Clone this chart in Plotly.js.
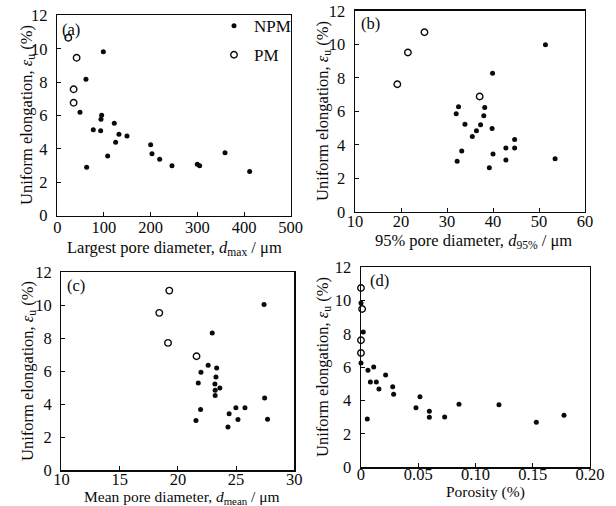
<!DOCTYPE html>
<html><head><meta charset="utf-8">
<script src="https://cdn.plot.ly/plotly-3.0.1.min.js"></script>
<style>html,body{margin:0;padding:0;background:#fff;}#chart{width:616px;height:506px;}</style>
</head><body><div id="chart"></div>
<script>
// Panel (a): largest pore diameter (um) vs uniform elongation (%)
const a_pm_x = [23.6, 41.4, 35, 35];
const a_pm_y = [10.66, 9.46, 7.57, 6.76];
const a_npm_x = [98.6, 61.4, 48.6, 95, 93.6, 77.1, 92.9, 122.1, 132.1, 149.3, 125, 107.9, 62.9, 200, 202.9, 219.3, 245.7, 300, 305, 359.3, 412.1];
const a_npm_y = [9.82, 8.18, 6.19, 6.02, 5.78, 5.14, 5.08, 5.54, 4.87, 4.77, 4.39, 3.57, 2.9, 4.25, 3.71, 3.37, 2.98, 3.07, 2.99, 3.77, 2.64];
// Panel (b): 95% pore diameter (um)
const b_pm_x = [19.2, 21.5, 25.1, 37.1];
const b_pm_y = [7.61, 9.51, 10.72, 6.88];
const b_npm_x = [51.4, 39.9, 32.5, 32.0, 38.2, 38.0, 33.9, 37.3, 39.8, 36.4, 35.5, 44.7, 33.2, 42.8, 44.7, 40.0, 32.2, 42.8, 39.2, 53.5];
const b_npm_y = [9.97, 8.27, 6.27, 5.85, 6.22, 5.74, 5.23, 5.19, 4.97, 4.84, 4.5, 4.32, 3.63, 3.81, 3.81, 3.45, 3.02, 3.09, 2.63, 3.16];
// Panel (c): mean pore diameter (um)
const c_pm_x = [19.26, 18.4, 19.15, 21.6];
const c_pm_y = [10.89, 9.54, 7.72, 6.91];
const c_npm_x = [27.4, 22.95, 22.6, 21.98, 23.33, 23.27, 21.75, 23.18, 23.6, 23.2, 23.2, 21.95, 21.55, 24.4, 24.98, 25.76, 25.16, 24.3, 27.45, 27.7];
const c_npm_y = [10.04, 8.32, 6.36, 5.94, 6.2, 5.66, 5.29, 5.23, 4.99, 4.85, 4.53, 3.68, 3.01, 3.42, 3.79, 3.79, 3.08, 2.63, 4.38, 3.1];
// Panel (d): porosity (%)
const d_pm_x = [0, 0.001, 0, 0];
const d_pm_y = [10.76, 9.5, 7.62, 6.86];
const d_npm_x = [0, 0.002, 0, 0.0061, 0.0111, 0.0082, 0.0134, 0.0157, 0.0215, 0.0277, 0.0285, 0.0055, 0.048, 0.0515, 0.0597, 0.0597, 0.0731, 0.0856, 0.1205, 0.1531, 0.1773];
const d_npm_y = [9.86, 8.12, 6.26, 5.82, 6.02, 5.12, 5.12, 4.7, 5.54, 4.84, 4.38, 2.9, 3.58, 4.24, 3.36, 3.0, 3.02, 3.78, 3.76, 2.7, 3.12];

const yTicks = [0, 2, 4, 6, 8, 10, 12];
const dTickVals = [0, 0.05, 0.10, 0.15, 0.20];
const dTickText = ["0", "0.05", "0.10", "0.15", "0.20"];

const ink = '#0a0a0a';
const FONT = 'Liberation Serif, Times New Roman, serif';
const FS = 16.5;
const filled = {symbol: 'circle', size: 5, color: ink};
const open = {symbol: 'circle-open', size: 6.5, color: ink, line: {width: 1.4, color: ink}};

function pair(xn, yn, xp, yp, ax, show) {
  return [
    {type: 'scatter', mode: 'markers', x: xn, y: yn, xaxis: 'x' + ax, yaxis: 'y' + ax, marker: filled, name: 'NPM', legendgroup: 'npm', showlegend: show, cliponaxis: false},
    {type: 'scatter', mode: 'markers', x: xp, y: yp, xaxis: 'x' + ax, yaxis: 'y' + ax, marker: open, name: 'PM', legendgroup: 'pm', showlegend: show, cliponaxis: false}
  ];
}
const data = [].concat(
  pair(a_npm_x, a_npm_y, a_pm_x, a_pm_y, '', true),
  pair(b_npm_x, b_npm_y, b_pm_x, b_pm_y, '2', false),
  pair(c_npm_x, c_npm_y, c_pm_x, c_pm_y, '3', false),
  pair(d_npm_x, d_npm_y, d_pm_x, d_pm_y, '4', false)
);

function xax(domain, range, anchor, standoff, extra) {
  return Object.assign({domain: domain, range: range, anchor: anchor, showline: true, mirror: true, linecolor: ink, linewidth: 1.4,
    ticks: 'inside', ticklen: 4, tickcolor: ink, showgrid: false, zeroline: false, ticklabelstandoff: standoff,
    tickfont: {family: FONT, size: FS, color: ink}}, extra);
}
function yax(domain, anchor) {
  return {domain: domain, range: [0, 12], anchor: anchor, tickvals: yTicks, showline: true, mirror: true, linecolor: ink, linewidth: 1.4,
    ticks: 'inside', ticklen: 4, tickcolor: ink, showgrid: false, zeroline: false, ticklabelstandoff: 5,
    tickfont: {family: FONT, size: FS, color: ink}};
}

const xa = [0.0930, 0.4719], ya = [0.5741, 0.9694];
const xb = [0.5763, 0.9497], yb = [0.5814, 0.9787];
const xc = [0.0998, 0.4778], yc = [0.0706, 0.4619];
const xd = [0.5860, 0.9578], yd = [0.0765, 0.4717];

function ann(text, x, y, angle, size) {
  return {text: text, xref: 'paper', yref: 'paper', x: x / 616, y: 1 - y / 506, xanchor: 'center', yanchor: 'middle',
    showarrow: false, textangle: angle || 0, font: {family: FONT, size: size || FS, color: ink}};
}
const ytitle = 'Uniform elongation, <i>ε</i><sub>u</sub> (%)';

const layout = {
  width: 616, height: 506, margin: {l: 0, r: 0, t: 0, b: 0}, paper_bgcolor: '#fff', plot_bgcolor: '#fff',
  font: {family: FONT, size: FS, color: ink},
  showlegend: true,
  legend: {x: 214 / 616, y: 0.984, xanchor: 'left', yanchor: 'top', bgcolor: 'rgba(0,0,0,0)', font: {family: FONT, size: 17, color: ink},
    itemwidth: 30, traceorder: 'grouped', tracegroupgap: 4},
  xaxis: xax(xa, [0, 500], 'y', -4, {dtick: 100}),
  yaxis: yax(ya, 'x'),
  xaxis2: xax(xb, [10, 60], 'y2', -6, {dtick: 10}),
  yaxis2: yax(yb, 'x2'),
  xaxis3: xax(xc, [10, 30], 'y3', -6, {dtick: 5}),
  yaxis3: yax(yc, 'x3'),
  xaxis4: xax(xd, [0, 0.2], 'y4', -8, {tickvals: dTickVals, ticktext: dTickText}),
  yaxis4: yax(yd, 'x4'),
  annotations: [
    ann('(a)', 71, 29), ann('(b)', 370, 24), ann('(c)', 76, 285), ann('(d)', 379, 280),
    ann('Largest pore diameter, <i>d</i><sub>max</sub> / μm', 174, 248),
    ann('95% pore diameter, <i>d</i><sub>95%</sub> / μm', 473, 241),
    ann('Mean pore diameter, <i>d</i><sub>mean</sub> / μm', 182, 497, 0, 15.5),
    ann('Porosity (%)', 485, 492, 0, 15.5),
    ann(ytitle, 27, 115, -90), ann(ytitle, 323, 111, -90),
    ann(ytitle, 28, 371, -90), ann(ytitle, 323, 367, -90)
  ]
};
Plotly.newPlot('chart', data, layout, {displayModeBar: false, staticPlot: true});
</script></body></html>
